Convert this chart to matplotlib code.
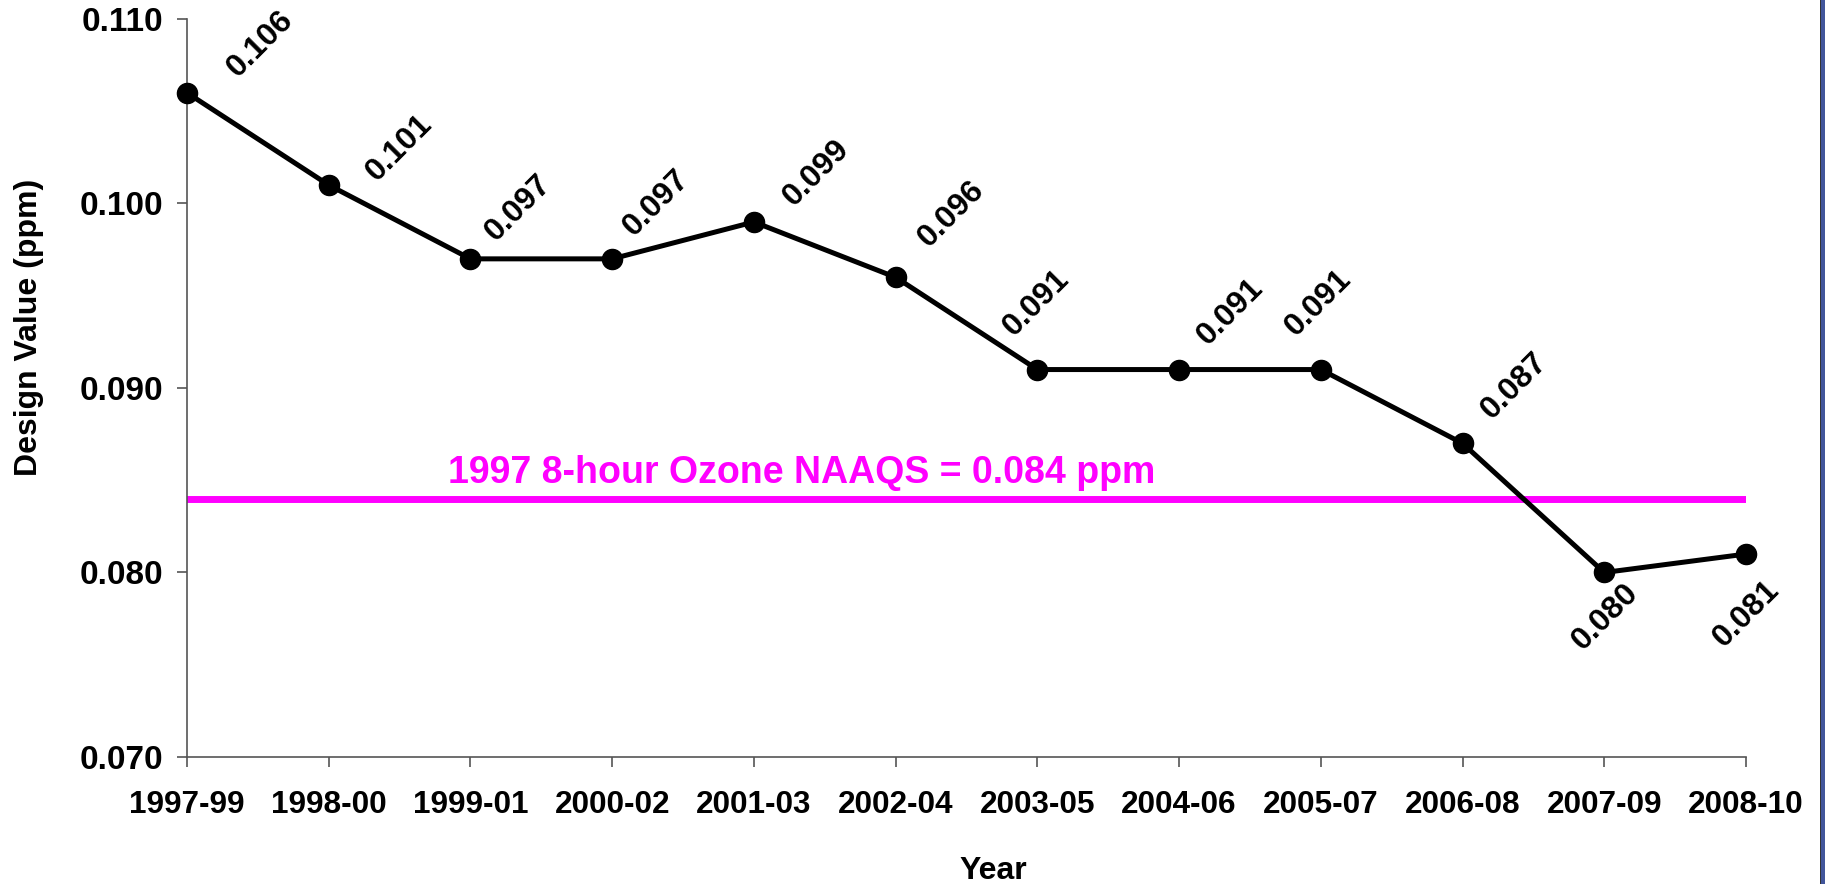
import matplotlib
matplotlib.use("Agg")
import matplotlib.pyplot as plt
from matplotlib.patches import Rectangle

# data
periods = ["1997-99", "1998-00", "1999-01", "2000-02", "2001-03", "2002-04",
           "2003-05", "2004-06", "2005-07", "2006-08", "2007-09", "2008-10"]
design_values = [0.106, 0.101, 0.097, 0.097, 0.099, 0.096,
                 0.091, 0.091, 0.091, 0.087, 0.080, 0.081]
naaqs = 0.084
naaqs_label = "1997 8-hour Ozone NAAQS = 0.084 ppm"
y_ticks = [0.070, 0.080, 0.090, 0.100, 0.110]

# where each value label sits relative to its point (pixels, as placed in the original)
label_offsets = [(73, 49), (71, 37), (48, 51), (44, 56), (63, 49), (56, 63),
                 (-1, 67), (51, 58), (-2, 67), (52, 57), (1, -44), (0, -60)]

plt.rcParams['font.family'] = ['Liberation Sans', 'DejaVu Sans']
plt.rcParams['font.weight'] = 'bold'

W, H = 1825, 884
fig = plt.figure(figsize=(W / 100, H / 100), dpi=100)
ax = fig.add_axes([187 / W, 1 - 757 / H, (1746 - 187) / W, (757 - 19) / H])

x = list(range(len(periods)))

ax.plot([0, len(periods) - 1], [naaqs, naaqs], color='#ff00ff', lw=5,
        solid_capstyle='round', zorder=2)
ax.text(4.34, 0.08484, naaqs_label, color='#ff00ff', fontsize=27,
        fontweight='bold', ha='center', va='baseline')

ax.plot(x, design_values, color='black', lw=3.6, marker='o', ms=14.5,
        clip_on=False, zorder=3)

for xi, v, (dx, dy) in zip(x, design_values, label_offsets):
    ax.annotate(f"{v:.3f}", (xi, v), xytext=(dx, dy), textcoords='offset pixels',
                rotation=45, ha='center', va='center', fontsize=23,
                fontweight='bold')

ax.set_xlim(0, len(periods) - 1)
ax.set_ylim(0.070, 0.110)
ax.set_xticks(x)
ax.set_xticklabels(periods)
ax.set_yticks(y_ticks)
ax.set_yticklabels([f"{t:.3f}" for t in y_ticks])

for s in ['top', 'right']:
    ax.spines[s].set_visible(False)
for s in ['left', 'bottom']:
    ax.spines[s].set_color('#555555')
    ax.spines[s].set_linewidth(1.2)

ax.tick_params(axis='y', direction='out', length=7, width=1.2, color='#555555',
               labelsize=24, pad=10)
ax.tick_params(axis='x', direction='out', length=7.5, width=1.2, color='#555555',
               labelsize=22.7, pad=16)

fig.text(29 / W, 1 - 327 / H, "Design Value (ppm)", rotation=90, ha='center',
         va='center', fontsize=23, fontweight='bold')
fig.text(993 / W, 1 - 856 / H, "Year", ha='center', va='top', fontsize=23,
         fontweight='bold')

# slide frame edge on the right
fig.patches.append(Rectangle((1820 / W, 0), 5 / W, 1, transform=fig.transFigure,
                             facecolor='#41559a', edgecolor='none'))
fig.patches.append(Rectangle((1820 / W, 0), 1.2 / W, 1, transform=fig.transFigure,
                             facecolor='#333333', edgecolor='none'))

fig.savefig("out.png", dpi=100)
